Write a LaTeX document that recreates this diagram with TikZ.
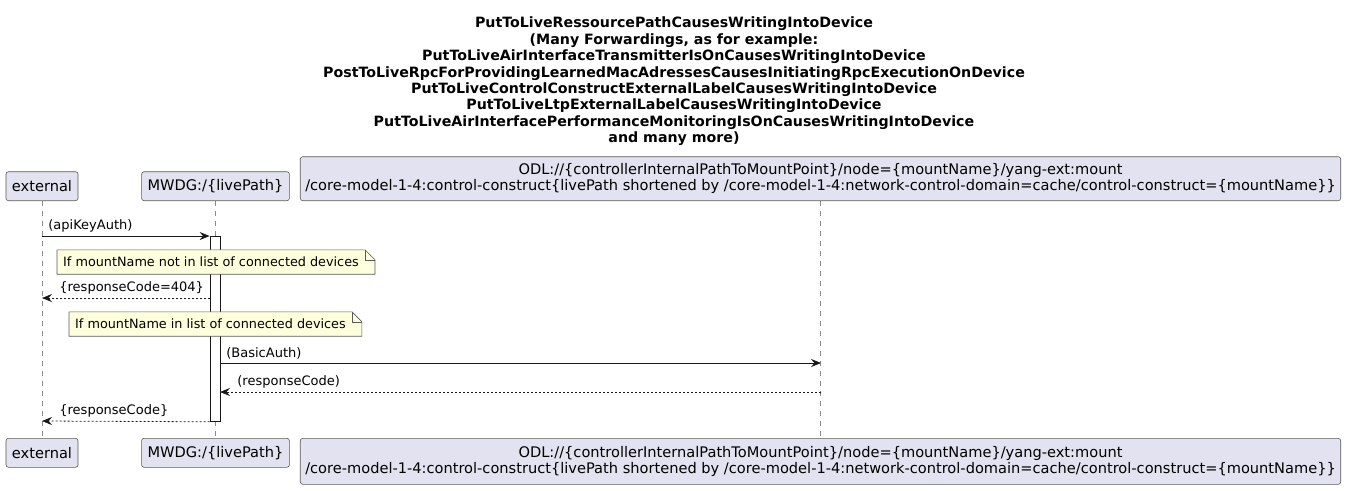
\documentclass[tikz,border=0pt]{standalone}
\usepackage{fontspec}
\setmainfont{DejaVu Sans}
\usepackage{xcolor}
\usetikzlibrary{arrows.meta,positioning,backgrounds}
\definecolor{partfill}{HTML}{E2E2F0}
\definecolor{partline}{HTML}{5A5A5A}
\definecolor{notefill}{HTML}{FEFFDD}
\definecolor{linegray}{HTML}{181818}
\definecolor{lifegray}{HTML}{8C8C8C}
\tikzset{
  participant/.style={draw=partline, line width=0.6pt, rounded corners=2.5pt, fill=partfill, align=center, inner xsep=6pt, minimum height=29pt, font=\fontsize{14.6}{16}\selectfont},
  lifeline/.style={draw=lifegray, line width=0.6pt, dash pattern=on 5pt off 5pt},
  activation/.style={draw=linegray, line width=0.8pt, fill=white, minimum width=10pt, inner sep=0pt},
  msg/.style={-{Stealth[length=10pt, width=8pt, inset=3.5pt]}, line width=0.8pt, draw=linegray},
  reply/.style={msg, dash pattern=on 2pt off 2pt},
  msglabel/.style={inner sep=1pt, text=black},
  note/.style={inner xsep=6pt, inner ysep=0pt, minimum height=24pt, align=left, font=\fontsize{12.8}{16}\selectfont},
  notebox/.style={draw=partline, line width=0.6pt, fill=notefill}
}

\begin{document}
\begin{tikzpicture}[x=1pt, y=-1pt, font=\fontsize{13}{16}\selectfont]
  \useasboundingbox (0,0) rectangle (1348,490);

  % title
  \node[align=center, font=\bfseries\fontsize{14.2}{16.4}\selectfont] (title) at (674,81.5)
    {PutToLiveRessourcePathCausesWritingIntoDevice\\
     (Many Forwardings, as for example:\\
     PutToLiveAirInterfaceTransmitterIsOnCausesWritingIntoDevice\\
     PostToLiveRpcForProvidingLearnedMacAdressesCausesInitiatingRpcExecutionOnDevice\\
     PutToLiveControlConstructExternalLabelCausesWritingIntoDevice\\
     PutToLiveLtpExternalLabelCausesWritingIntoDevice\\
     PutToLiveAirInterfacePerformanceMonitoringIsOnCausesWritingIntoDevice\\
     and many more)};

  % participants
  \node[participant, anchor=south] (ext) at (42,201) {external};
  \node[participant, anchor=south] (mwdg) at (215.5,201) {MWDG:/\{livePath\}};
  \node[participant, anchor=south, minimum height=44pt, inner xsep=5pt] (odl) at (820.5,201)
    {ODL://\{controllerInternalPathToMountPoint\}/node=\{mountName\}/yang-ext:mount\\
     /core-model-1-4:control-construct\{livePath shortened by /core-model-1-4:network-control-domain=cache/control-construct=\{mountName\}\}};
  \node[participant, anchor=north] (extB) at (42,438) {external};
  \node[participant, anchor=north] (mwdgB) at (215.5,438) {MWDG:/\{livePath\}};
  \node[participant, anchor=north, minimum height=46pt, inner xsep=5pt] (odlB) at (820.5,438)
    {ODL://\{controllerInternalPathToMountPoint\}/node=\{mountName\}/yang-ext:mount\\
     /core-model-1-4:control-construct\{livePath shortened by /core-model-1-4:network-control-domain=cache/control-construct=\{mountName\}\}};

  \begin{scope}[on background layer]
    \draw[lifeline] (ext.south) -- (extB.north);
    \draw[lifeline] (mwdg.south) -- (mwdgB.north);
    \draw[lifeline] (odl.south) -- (odlB.north);
    \node[activation, minimum height=185pt, anchor=north] (act) at (215,236) {};
  \end{scope}

  % message ends
  \coordinate (ext1) at (42,236);
  \coordinate (ext2) at (42,298);
  \coordinate (act2) at (210,298);
  \coordinate (act3) at (220,363);
  \coordinate (odl3) at (821,363);
  \coordinate (odl4) at (821,392);
  \coordinate (act4) at (220,392);
  \coordinate (ext5) at (42,421);

  \draw[msg] (ext1) -- node[msglabel, at start, anchor=south west, xshift=5pt, yshift=2pt] {(apiKeyAuth)} (act.north west);

  \node[note, anchor=west] (note1) at (57,262) {If mountName not in list of connected devices};
  \begin{scope}[on background layer]
    \draw[notebox] (note1.south west) -- (note1.north west) -- (note1.north east)
      -- ([xshift=10pt, yshift=-10pt]note1.north east) -- ([xshift=10pt]note1.south east) -- cycle;
    \draw[notebox, fill=none] (note1.north east) -- ([yshift=-10pt]note1.north east)
      -- ([xshift=10pt, yshift=-10pt]note1.north east);
  \end{scope}

  \draw[reply] (act2) -- node[msglabel, at end, anchor=south west, xshift=16pt, yshift=2pt] {\{responseCode=404\}} (ext2);

  \node[note, anchor=west] (note2) at (69,324) {If mountName in list of connected devices};
  \begin{scope}[on background layer]
    \draw[notebox] (note2.south west) -- (note2.north west) -- (note2.north east)
      -- ([xshift=10pt, yshift=-10pt]note2.north east) -- ([xshift=10pt]note2.south east) -- cycle;
    \draw[notebox, fill=none] (note2.north east) -- ([yshift=-10pt]note2.north east)
      -- ([xshift=10pt, yshift=-10pt]note2.north east);
  \end{scope}

  \draw[msg] (act3) -- node[msglabel, at start, anchor=south west, xshift=5pt, yshift=2pt] {(BasicAuth)} (odl3);
  \draw[reply] (odl4) -- node[msglabel, at end, anchor=south west, xshift=16pt, yshift=2pt] {(responseCode)} (act4);
  \draw[reply] (act.south west) -- node[msglabel, at end, anchor=south west, xshift=16pt, yshift=2pt] {\{responseCode\}} (ext5);
\end{tikzpicture}
\end{document}
